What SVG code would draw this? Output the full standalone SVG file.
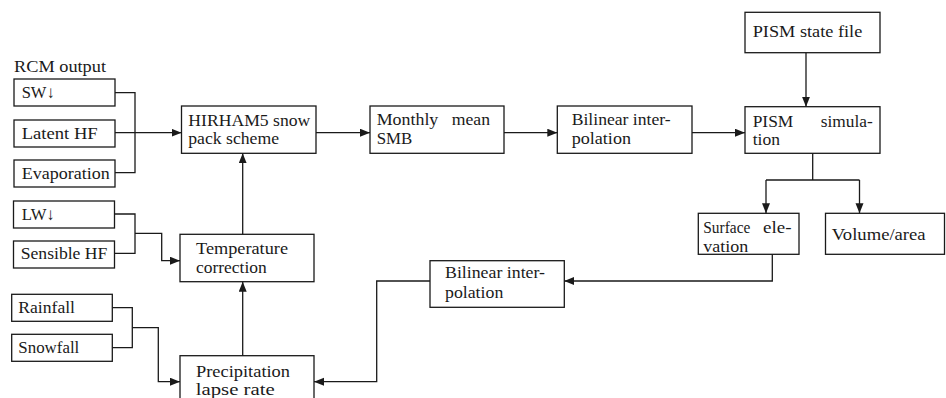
<svg xmlns="http://www.w3.org/2000/svg" width="946" height="398" viewBox="0 0 946 398">
<defs>
<marker id="ah" markerUnits="userSpaceOnUse" markerWidth="11" markerHeight="9" refX="10" refY="4" orient="auto">
<path d="M0,0 L10,4 L0,8 z" fill="#1a1a1a"/>
</marker>
<style>
.b{fill:#fff;stroke:#1a1a1a;stroke-width:1.3}
.c{fill:none;stroke:#1a1a1a;stroke-width:1.3}
.a{marker-end:url(#ah)}
text{font-family:"Liberation Serif","Times New Roman",serif;font-size:17px;fill:#1a1a1a}
</style>
</defs>
<rect width="946" height="398" fill="#fff"/>
<text x="14" y="72" textLength="92" lengthAdjust="spacingAndGlyphs">RCM output</text>
<g id="sw"><rect class="b" x="14" y="79" width="101" height="27"/><text x="21.7" y="98.3" textLength="33" lengthAdjust="spacingAndGlyphs">SW↓</text></g>
<g id="latent"><rect class="b" x="14" y="120" width="101" height="27"/><text x="21.7" y="138.8" textLength="76" lengthAdjust="spacingAndGlyphs">Latent HF</text></g>
<g id="evap"><rect class="b" x="14" y="160" width="101" height="27"/><text x="21.7" y="178.5" textLength="88" lengthAdjust="spacingAndGlyphs">Evaporation</text></g>
<g id="lw"><rect class="b" x="13.5" y="201" width="101" height="27"/><text x="21.7" y="219.5" textLength="33" lengthAdjust="spacingAndGlyphs">LW↓</text></g>
<g id="sensible"><rect class="b" x="13.5" y="241" width="101" height="27"/><text x="20.7" y="259" textLength="86.7" lengthAdjust="spacingAndGlyphs">Sensible HF</text></g>
<g id="rainfall"><rect class="b" x="11.7" y="294.3" width="100.6" height="27"/><text x="18.3" y="312.7" textLength="56.7" lengthAdjust="spacingAndGlyphs">Rainfall</text></g>
<g id="snowfall"><rect class="b" x="11.7" y="334.3" width="100.6" height="27"/><text x="18.3" y="352.7" textLength="61" lengthAdjust="spacingAndGlyphs">Snowfall</text></g>
<g id="hirham"><rect class="b" x="181.5" y="106" width="134.5" height="47.3"/><text x="188.3" y="126" textLength="122" lengthAdjust="spacingAndGlyphs">HIRHAM5 snow</text><text x="188.3" y="144.3" textLength="90.7" lengthAdjust="spacingAndGlyphs">pack scheme</text></g>
<g id="temp"><rect class="b" x="180" y="234.3" width="134" height="47.4"/><text x="196" y="254" textLength="92" lengthAdjust="spacingAndGlyphs">Temperature</text><text x="196" y="273.3" textLength="70.7" lengthAdjust="spacingAndGlyphs">correction</text></g>
<g id="precip"><rect class="b" x="180" y="355.7" width="134" height="50"/><text x="196" y="376.7" textLength="94" lengthAdjust="spacingAndGlyphs">Precipitation</text><text x="195.7" y="395" textLength="79" lengthAdjust="spacingAndGlyphs">lapse rate</text></g>
<g id="monthly"><rect class="b" x="370" y="106" width="134" height="47.3"/><text x="376.7" y="125" textLength="61.6" lengthAdjust="spacingAndGlyphs">Monthly</text><text x="451.7" y="125" textLength="38.3" lengthAdjust="spacingAndGlyphs">mean</text><text x="376.7" y="144" textLength="35.6" lengthAdjust="spacingAndGlyphs">SMB</text></g>
<g id="bilinear1"><rect class="b" x="557.3" y="106" width="134.7" height="47.3"/><text x="571.7" y="125" textLength="99" lengthAdjust="spacingAndGlyphs">Bilinear inter-</text><text x="571.7" y="144" textLength="59.3" lengthAdjust="spacingAndGlyphs">polation</text></g>
<g id="pismstate"><rect class="b" x="745" y="12.3" width="135" height="40.4"/><text x="752.7" y="37" textLength="109.6" lengthAdjust="spacingAndGlyphs">PISM state file</text></g>
<g id="pismsim"><rect class="b" x="745" y="106.7" width="135" height="46.6"/><text x="752.7" y="126.7" textLength="40.6" lengthAdjust="spacingAndGlyphs">PISM</text><text x="820.7" y="126.7" textLength="52" lengthAdjust="spacingAndGlyphs">simula-</text><text x="752.7" y="145" textLength="27.3" lengthAdjust="spacingAndGlyphs">tion</text></g>
<g id="surface"><rect class="b" x="698.3" y="213.3" width="100.7" height="41"/><text x="703.3" y="233.3" textLength="47" lengthAdjust="spacingAndGlyphs">Surface</text><text x="763" y="233.3" textLength="28.5" lengthAdjust="spacingAndGlyphs">ele-</text><text x="703.3" y="251.7" textLength="45" lengthAdjust="spacingAndGlyphs">vation</text></g>
<g id="volume"><rect class="b" x="825.5" y="213.3" width="119" height="41"/><text x="831.8" y="240" textLength="93.8" lengthAdjust="spacingAndGlyphs">Volume/area</text></g>
<g id="bilinear2"><rect class="b" x="430" y="260.7" width="134.3" height="46.6"/><text x="445" y="278.3" textLength="100" lengthAdjust="spacingAndGlyphs">Bilinear inter-</text><text x="445" y="297.7" textLength="58.3" lengthAdjust="spacingAndGlyphs">polation</text></g>
<g id="connectors">
<path class="c" d="M115,92.7 H135 V172.7 H115"/>
<path class="c a" d="M115,132.7 H181.5"/>
<path class="c" d="M114.5,214 H135 V253.3 H114.5"/>
<path class="c a" d="M135,233.3 H161.7 V260.7 H180"/>
<path class="c" d="M112.3,307.7 H132.3 V347.7 H112.3"/>
<path class="c a" d="M132.3,327.7 H158.3 V381.7 H180"/>
<path class="c a" d="M242.7,234.3 V153.3"/>
<path class="c a" d="M242.7,355.7 V281.7"/>
<path class="c a" d="M316,132.7 H370"/>
<path class="c a" d="M504,132.7 H557.3"/>
<path class="c a" d="M692,132.7 H745"/>
<path class="c a" d="M806,52.7 V106.7"/>
<path class="c" d="M812.7,153.3 V180 M766,180 H859.5"/>
<path class="c a" d="M766,180 V213.3"/>
<path class="c a" d="M859.5,180 V213.3"/>
<path class="c a" d="M772.3,254.3 V281 H564.3"/>
<path class="c a" d="M430,281 H376.7 V381.7 H314"/>
</g>
</svg>
